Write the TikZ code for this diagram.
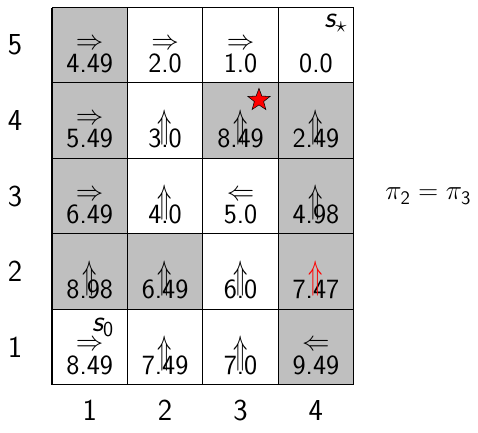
\documentclass[tikz,border=0pt]{standalone}
\usepackage{amsmath, amssymb}
\usepackage{graphicx}
\usepackage{tikz}
\usetikzlibrary{shapes.geometric}

\newcommand{\aR}{$\Rightarrow$}
\newcommand{\aL}{$\Leftarrow$}
\newcommand{\aU}{\scalebox{0.85}[1.45]{$\Uparrow$}}

\begin{document}
\begin{tikzpicture}[x=2cm, y=2cm,
  every node/.style={inner sep=0pt},
  val/.style={anchor=base, font=\fontsize{21}{24}\selectfont\sffamily},
  act/.style={font=\fontsize{21}{24}\selectfont},
  lbl/.style={font=\fontsize{23}{26}\selectfont\sffamily},
  tag/.style={anchor=base east, font=\fontsize{23}{26}\selectfont\sffamily\itshape}]
\useasboundingbox (-0.69,-0.643) rectangle (5.65,5.10);
% shaded states
\foreach \c/\r in {1/5,1/4,3/4,4/4,1/3,4/3,1/2,2/2,4/2,4/1}
  \fill[gray!50] (\c-1,\r-1) rectangle (\c,\r);
\draw[line width=0.8pt, step=2cm] (0,0) grid (4,5);
% values
\foreach \c/\r/\v in {1/5/4.49,2/5/2.0,3/5/1.0,4/5/0.0,
                      1/4/5.49,2/4/3.0,3/4/8.49,4/4/2.49,
                      1/3/6.49,2/3/4.0,3/3/5.0,4/3/4.98,
                      1/2/8.98,2/2/6.49,3/2/6.0,4/2/7.47,
                      1/1/8.49,2/1/7.49,3/1/7.0,4/1/9.49}
  \node[val] (v\c\r) at (\c-0.5,\r-0.862) {\v};
% policy
\foreach \c/\r/\a in {1/5/\aR,2/5/\aR,3/5/\aR,1/4/\aR,1/3/\aR,3/3/\aL,1/1/\aR,4/1/\aL}
  \node[act] (a\c\r) at (\c-0.5,\r-0.488) {\a};
\foreach \c/\r in {2/4,3/4,4/4,2/3,4/3,1/2,2/2,3/2,2/1,3/1}
  \node[act] (a\c\r) at (\c-0.5,\r-0.59) {\aU};
\node[act, red] (a42) at (3.5,1.41) {\aU};
% start, goal, marker
\node[tag] (goal) at (3.92,4.735) {s$_\star$};
\node[tag] (start) at (0.822,0.699) {s\textsubscript{\upshape 0}};
\node[star, star points=5, star point ratio=2.4, fill=red, draw=black,
  thin, minimum size=0.62cm] (mark) at (2.745,3.773) {};
% axes
\foreach \r in {1,...,5}
  \node[lbl] (row\r) at (-0.49,\r-0.5) {\r};
\foreach \c in {1,...,4}
  \node[lbl] (col\c) at (\c-0.5,-0.34) {\c};
\node[lbl, font=\fontsize{21}{24}\selectfont\sffamily] (eq) at (4.99,2.5)
  {$\pi_{\mathsf{2}} = \pi_{\mathsf{3}}$};
\end{tikzpicture}
\end{document}
